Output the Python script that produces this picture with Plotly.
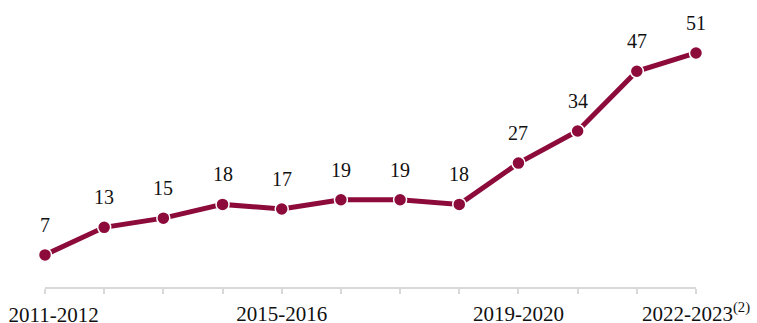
import plotly.graph_objects as go

categories = ["2011-2012", "2012-2013", "2013-2014", "2014-2015", "2015-2016", "2016-2017",
              "2017-2018", "2018-2019", "2019-2020", "2020-2021", "2021-2022", "2022-2023"]
values = [7, 13, 15, 18, 17, 19, 19, 18, 27, 34, 47, 51]
tick_text = ["", "", "", "", "2015-2016", "", "", "",
             "2019-2020", "", "", "2022-2023<sup>(2)</sup>"]
first_tick_text = ["2011-2012"]

color = "#8C0B3B"
font = "Liberation Serif"

x = list(range(len(categories)))
fig = go.Figure()
fig.add_trace(go.Scatter(
    x=x, y=values, mode="lines+markers",
    line=dict(color=color, width=5),
    marker=dict(color=color, size=13, line=dict(color="white", width=1.5)),
    hoverinfo="skip", cliponaxis=False,
))
# invisible trace to carry the second x axis (first tick label, left-aligned)
fig.add_trace(go.Scatter(x=[x[0]], y=[values[0]], xaxis="x2", mode="markers",
                         marker=dict(opacity=0), hoverinfo="skip"))
for xi, v in zip(x, values):
    fig.add_annotation(x=xi, y=v, text=str(v), showarrow=False, yshift=30,
                       font=dict(family=font, size=20, color="#111111"))

tickfont = dict(family=font, size=21, color="#111111")
fig.update_layout(
    width=757, height=323,
    margin=dict(l=45, r=61, t=30, b=36, autoexpand=False),
    paper_bgcolor="white", plot_bgcolor="white",
    showlegend=False,
    xaxis=dict(range=[0, 11], tickvals=x, ticktext=tick_text, showgrid=False, zeroline=False,
               automargin=False,
               showline=True, linecolor="#d9d9d9", linewidth=1.5,
               ticks="outside", ticklen=5, tickcolor="#d9d9d9", tickwidth=1.5,
               ticklabelstandoff=2, tickfont=tickfont),
    xaxis2=dict(range=[0, 11], overlaying="x", side="bottom", tickvals=[x[0]],
                ticktext=first_tick_text, showgrid=False, zeroline=False, showline=False,
                automargin=False, ticks="outside", ticklen=5, tickcolor="rgba(0,0,0,0)",
                ticklabelposition="outside right", ticklabelshift=-37,
                ticklabelstandoff=9, tickfont=tickfont),
    yaxis=dict(range=[0, 56], visible=False),
)
fig.write_html("out.html")
